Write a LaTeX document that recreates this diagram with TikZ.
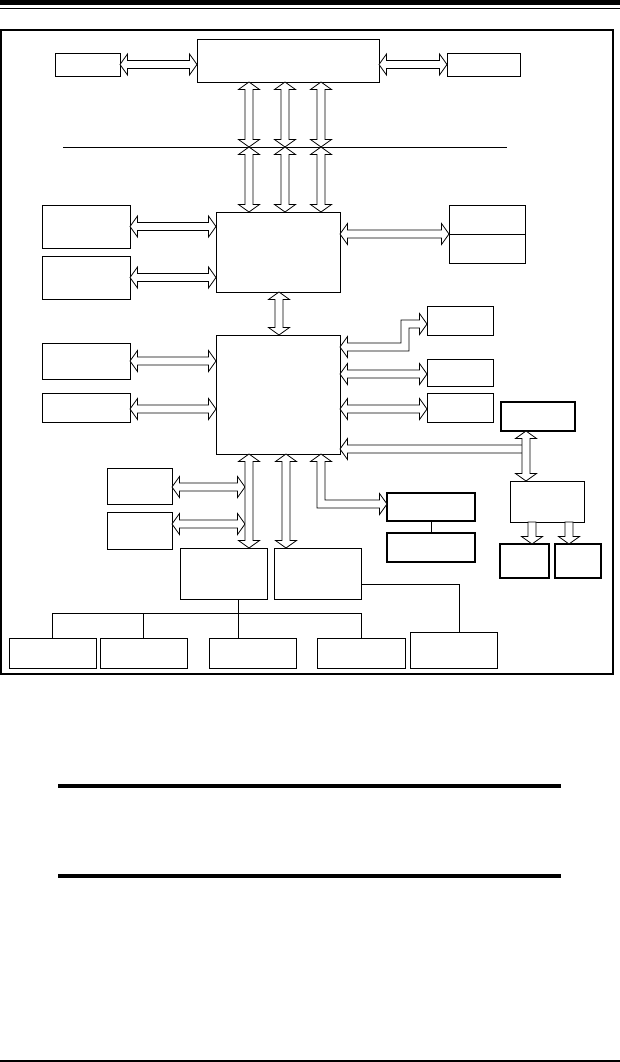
\documentclass[tikz,border=0pt]{standalone}
\usepackage{tikz}
\usetikzlibrary{calc}

% hollow bus arrows
\newcommand{\tiplen}{7.5pt}
\newcommand{\tiphalf}{10.5pt}
\newcommand{\shafthalf}{4pt}
% tips at both ends
\newcommand{\busarrow}[2]{%
  \draw[bus] let \p1=(#1), \p2=(#2), \n1={atan2(\y2-\y1,\x2-\x1)} in
    (\p1)
    -- ($(\p1)+(\n1:\tiplen)+({\n1+90}:\tiphalf)$)
    -- ($(\p1)+(\n1:\tiplen)+({\n1+90}:\shafthalf)$)
    -- ($(\p2)+({\n1+180}:\tiplen)+({\n1+90}:\shafthalf)$)
    -- ($(\p2)+({\n1+180}:\tiplen)+({\n1+90}:\tiphalf)$)
    -- (\p2)
    -- ($(\p2)+({\n1+180}:\tiplen)+({\n1-90}:\tiphalf)$)
    -- ($(\p2)+({\n1+180}:\tiplen)+({\n1-90}:\shafthalf)$)
    -- ($(\p1)+(\n1:\tiplen)+({\n1-90}:\shafthalf)$)
    -- ($(\p1)+(\n1:\tiplen)+({\n1-90}:\tiphalf)$)
    -- cycle;}
% tip at the second end only
\newcommand{\busflow}[2]{%
  \draw[bus] let \p1=(#1), \p2=(#2), \n1={atan2(\y2-\y1,\x2-\x1)} in
    ($(\p1)+({\n1+90}:\shafthalf)$)
    -- ($(\p2)+({\n1+180}:\tiplen)+({\n1+90}:\shafthalf)$)
    -- ($(\p2)+({\n1+180}:\tiplen)+({\n1+90}:\tiphalf)$)
    -- (\p2)
    -- ($(\p2)+({\n1+180}:\tiplen)+({\n1-90}:\tiphalf)$)
    -- ($(\p2)+({\n1+180}:\tiplen)+({\n1-90}:\shafthalf)$)
    -- ($(\p1)+({\n1-90}:\shafthalf)$)
    -- cycle;}

\begin{document}
\begin{tikzpicture}[x=1pt, y=-1pt,
  blk/.style={draw, line width=0.9pt, inner sep=0pt, outer sep=0pt},
  blkb/.style={blk, line width=1.5pt},
  sz/.style 2 args={minimum width=#1pt, minimum height=#2pt},
  bus/.style={draw, fill=white, line width=0.8pt, line join=miter},
  wire/.style={draw, line width=0.9pt},
]
  \useasboundingbox (0,0) rectangle (620,1062);
  \fill[white] (0,0) rectangle (620,1062);

  % page rules
  \fill (0,0) rectangle (620,5);
  \draw[line width=1pt] (0,9) -- (620,9);
  \fill (58,784) rectangle (561,788);
  \fill (58,874) rectangle (561,878);
  \fill (0,1059.5) rectangle (620,1062);
  \draw[line width=1.2pt] (1,30) rectangle (613,674);

  % host side
  \node[blk, sz={182}{43}] (cpu) at (288,60.5) {};
  \node[blk, sz={65}{23}] (cache) at (87.5,64.5) {};
  \node[blk, sz={73}{23}] (clk) at (483.5,64.5) {};
  \node[blk, sz={124}{80}] (nb) at (278,252) {};
  \node[blk, sz={88}{43}] (dimmA) at (86,226.5) {};
  \node[blk, sz={88}{43}] (dimmB) at (86,277.5) {};
  \node[blk, sz={76}{58}] (agp) at (487,234) {};
  \draw[wire] (agp.west) -- (agp.east);

  % south bridge and its devices
  \node[blk, sz={124}{119}] (sb) at (278,394.5) {};
  \node[blk, sz={88}{36}] (ideA) at (86,361) {};
  \node[blk, sz={88}{29}] (ideB) at (86,407.5) {};
  \node[blk, sz={66}{29}] (usb) at (460,320.5) {};
  \node[blk, sz={66}{27}] (codec) at (460,372.5) {};
  \node[blk, sz={66}{29}] (smb) at (460,407.5) {};
  \node[blkb, sz={74}{29}] (hub) at (538,416.5) {};
  \node[blk, sz={74}{41}] (pci) at (547,501.5) {};
  \node[blkb, sz={49}{34}] (slotA) at (524.5,561) {};
  \node[blkb, sz={46}{34}] (slotB) at (578,561) {};
  \node[blk, sz={65}{36}] (lpcA) at (139.5,486) {};
  \node[blk, sz={65}{37}] (lpcB) at (139.5,530.5) {};
  \node[blk, sz={87}{51}] (sio) at (223.5,573.5) {};
  \node[blk, sz={87}{51}] (fwh) at (317.5,573.5) {};
  \node[blkb, sz={88}{28}] (bios) at (431,507) {};
  \node[blkb, sz={88}{29}] (flash) at (431,547.5) {};

  % legacy devices
  \node[blk, sz={87}{30}] (devA) at (52.5,653) {};
  \node[blk, sz={87}{30}] (devB) at (143.5,653) {};
  \node[blk, sz={87}{30}] (devC) at (252.5,653) {};
  \node[blk, sz={88}{30}] (devD) at (361,653) {};
  \node[blk, sz={87}{36}] (devE) at (453.5,650) {};

  % front side bus
  \draw[wire] (63,147) -- (507,147);
  \coordinate (t1) at (249,147);
  \coordinate (t2) at (285,147);
  \coordinate (t3) at (321,147);
  \foreach \t in {t1,t2,t3} {
    \busarrow{cpu.south -| \t}{\t}
    \busarrow{\t}{nb.north -| \t}
  }
  \busarrow{cache.east}{cpu.west |- cache.east}
  \busarrow{clk.west}{cpu.east |- clk.west}
  \busarrow{dimmA.east}{nb.west |- dimmA.east}
  \busarrow{dimmB.east}{nb.west |- dimmB.east}
  \busarrow{nb.east |- agp.west}{agp.west}
  \busarrow{nb.south -| 279,0}{sb.north -| 279,0}

  % south bridge links
  \busarrow{ideA.east}{sb.west |- ideA.east}
  \busarrow{ideB.east |- 0,409}{sb.west |- 0,409}
  \draw[bus] (sb.east |- 0,347) -- (347.5,336.5) -- (347.5,343) -- (401,343)
    -- (401,320) -- (419.5,320) -- (419.5,313.5) -- (usb.west |- 0,324)
    -- (419.5,334.5) -- (419.5,328) -- (409,328) -- (409,351)
    -- (347.5,351) -- (347.5,357.5) -- cycle;
  \busarrow{sb.east |- 0,374}{codec.west |- 0,374}
  \busarrow{sb.east |- 0,409}{smb.west |- 0,409}
  \coordinate (jn) at (526,449);
  \busflow{jn}{sb.east |- jn}
  \busarrow{hub.south -| jn}{pci.north -| jn}
  \busflow{pci.south -| 532,0}{slotA.north -| 532,0}
  \busflow{pci.south -| 569,0}{slotB.north -| 569,0}

  \busarrow{lpcA.east |- 0,487}{245,487}
  \busarrow{lpcB.east |- 0,524}{245,524}
  \busarrow{sb.south -| 249,0}{sio.north -| 249,0}
  \busarrow{sb.south -| 286,0}{fwh.north -| 286,0}
  \draw[bus] (sb.south -| 321,0) -- (331.5,461.5) -- (325,461.5) -- (325,500)
    -- (379.5,500) -- (379.5,493.5) -- (bios.west |- 0,504) -- (379.5,514.5)
    -- (379.5,508) -- (317,508) -- (317,461.5) -- (310.5,461.5) -- cycle;

  % plain wires
  \draw[wire] (bios.south) -- (flash.north);
  \draw[wire] (sio.south -| 238,0) -- (devC.north -| 238,0);
  \draw[wire] (devA.north |- 0,613) -- (devD.north |- 0,613);
  \draw[wire] (devA.north) -- (devA.north |- 0,613);
  \draw[wire] (devB.north) -- (devB.north |- 0,613);
  \draw[wire] (devD.north) -- (devD.north |- 0,613);
  \draw[wire] (fwh.east |- 0,584) -- (459,584) -- (devE.north -| 459,0);
\end{tikzpicture}
\end{document}
